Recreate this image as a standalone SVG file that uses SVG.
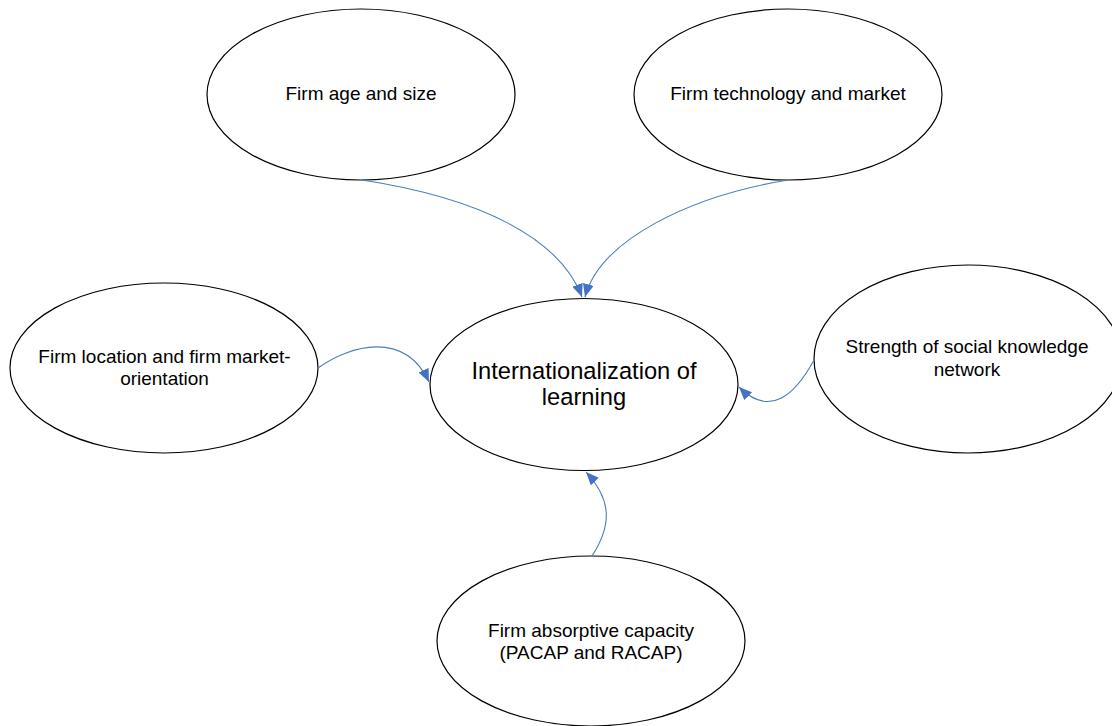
<svg xmlns="http://www.w3.org/2000/svg" width="1112" height="726" viewBox="0 0 1112 726">
<style>
.node ellipse{fill:#fff;stroke:#000;stroke-width:1.2}
.lbl{font-family:"Liberation Sans",Arial,sans-serif;font-size:19px;fill:#000;text-anchor:middle}
.big{font-size:23.7px}
.conn path{fill:none;stroke:#4A7EBB;stroke-width:1.1}
</style>
<defs>
<marker id="arr" markerUnits="userSpaceOnUse" markerWidth="14" markerHeight="12" refX="13" refY="5.5" orient="auto">
<path d="M0,0 L13,5.5 L0,11 Z" fill="#4472C4"/>
</marker>
</defs>
<rect width="1112" height="726" fill="#fff"/>
<g id="n-age" class="node"><ellipse cx="361" cy="94.5" rx="154" ry="85.5"/><text class="lbl" x="361" y="100">Firm age and size</text></g>
<g id="n-tech" class="node"><ellipse cx="788" cy="94.5" rx="154" ry="85.5"/><text class="lbl" x="788" y="100">Firm technology and market</text></g>
<g id="n-center" class="node"><ellipse cx="584" cy="384.5" rx="154" ry="86"/><text class="lbl big" x="584" y="379">Internationalization of</text><text class="lbl big" x="584" y="405">learning</text></g>
<g id="n-location" class="node"><ellipse cx="164" cy="368" rx="154" ry="85"/><text class="lbl" x="164.5" y="363">Firm location and firm market-</text><text class="lbl" x="164.5" y="385">orientation</text></g>
<g id="n-social" class="node"><ellipse cx="968" cy="359" rx="154" ry="94"/><text class="lbl" x="967" y="353">Strength of social knowledge</text><text class="lbl" x="967" y="376">network</text></g>
<g id="n-absorb" class="node"><ellipse cx="591" cy="641" rx="154" ry="85"/><text class="lbl" x="591" y="637">Firm absorptive capacity</text><text class="lbl" x="591" y="659">(PACAP and RACAP)</text></g>
<g id="connectors" class="conn">
<path d="M362,180 C480,198 560,238 582,297" marker-end="url(#arr)"/>
<path d="M788,180 C690,196 600,240 585,297" marker-end="url(#arr)"/>
<path d="M318,368 C350,345 405,330 429,382" marker-end="url(#arr)"/>
<path d="M814,360 C795,395 770,418 739,387" marker-end="url(#arr)"/>
<path d="M592,556 C612,525 612,500 586,472" marker-end="url(#arr)"/>
</g>
</svg>
